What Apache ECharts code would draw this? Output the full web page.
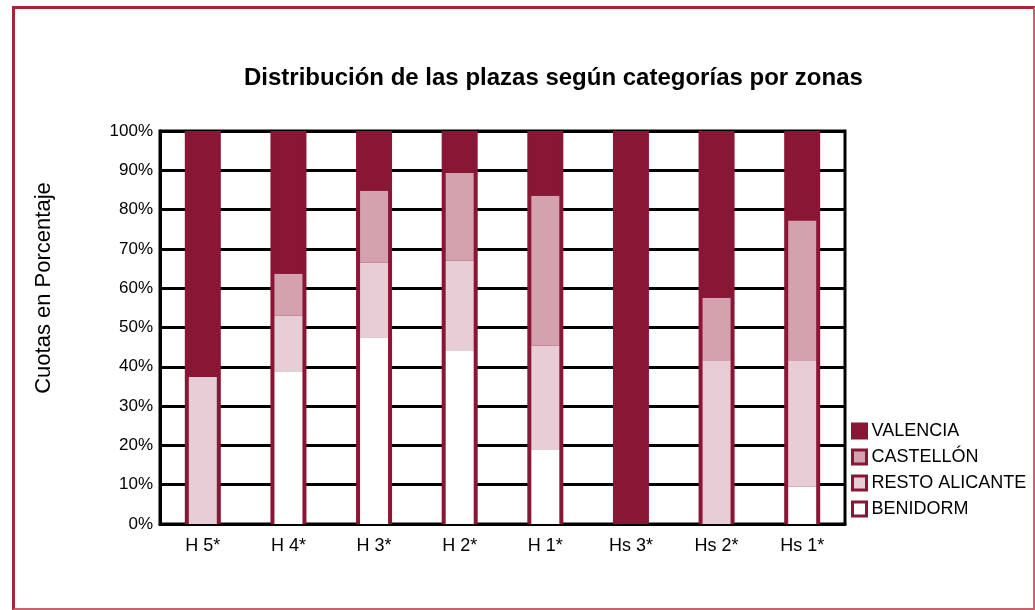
<!DOCTYPE html>
<html>
<head>
<meta charset="utf-8">
<script src="https://cdn.jsdelivr.net/npm/echarts@6/dist/echarts.min.js"></script>
<style>
	html, body { margin: 0; padding: 0; background: #fff; }
	#chart { position: absolute; left: 0; top: 0; width: 1035px; height: 610px; }
	#frame {
		position: absolute; left: 12px; top: 6px; width: 1023px; height: 604px;
		box-sizing: border-box; pointer-events: none;
		border-top: 3px solid #a52634; border-left: 3px solid #a52634;
		border-right: 2px solid #c7636f; border-bottom: 2px solid #c7636f;
	}
</style>
</head>
<body>
<div id="chart"></div>
<div id="frame"></div>
<script>
// datos (%)
let categories = ["H 5*", "H 4*", "H 3*", "H 2*", "H 1*", "Hs 3*", "Hs 2*", "Hs 1*"];
let benidorm = [0, 38.7, 47.5, 44.0, 18.8, 0, 0, 9.5];
let restoAlicante = [37.4, 14.3, 19.0, 23.0, 26.6, 0, 41.5, 32.0];
let castellon = [0, 10.7, 18.3, 22.3, 38.1, 0, 16.1, 35.7];
let valencia = [62.6, 36.3, 15.2, 10.7, 16.5, 100, 42.4, 22.8];
let yTicks = [0, 10, 20, 30, 40, 50, 60, 70, 80, 90, 100];

let dark = "#8a1636";
let font = "'Liberation Sans', Arial, sans-serif";

// total por columna, para el marco oscuro de cada barra
let totals = categories.map(function(c, i) {
	return benidorm[i] + restoAlicante[i] + castellon[i] + valencia[i];
});

let chart = echarts.init(document.getElementById("chart"));

function segment(name, data, color) {
	return {
		name: name,
		type: "bar",
		stack: "zonas",
		xAxisIndex: 0,
		barWidth: 28,
		z: 3,
		itemStyle: { color: color },
		data: data
	};
}

let option = {
	animation: false,
	backgroundColor: "#fff",
	textStyle: { fontFamily: font },
	title: {
		text: "Distribución de las plazas según categorías por zonas",
		left: 239,
		top: 61,
		textStyle: { fontSize: 24, fontWeight: "bold", color: "#000", fontFamily: font }
	},
	graphic: [{
		type: "text",
		x: 44,
		y: 288,
		rotation: Math.PI / 2,
		style: {
			text: "Cuotas en Porcentaje",
			fontSize: 22,
			fontFamily: font,
			fill: "#000",
			align: "center",
			verticalAlign: "middle"
		}
	}],
	legend: {
		orient: "vertical",
		left: 851,
		top: 422,
		padding: 0,
		itemWidth: 14,
		itemHeight: 14,
		itemGap: 8,
		icon: "rect",
		textStyle: { fontSize: 18, color: "#000", fontFamily: font },
		itemStyle: { borderColor: dark, borderWidth: 3 },
		data: ["VALENCIA", "CASTELLÓN", "RESTO ALICANTE", "BENIDORM"]
	},
	grid: {
		left: 160,
		right: 190,
		top: 131,
		bottom: 86,
		show: true,
		borderColor: "#000",
		borderWidth: 3,
		backgroundColor: "transparent"
	},
	xAxis: [{
		type: "category",
		data: categories,
		axisLine: { lineStyle: { color: "#000", width: 3 } },
		axisTick: { length: 10, lineStyle: { color: "#000", width: 3 } },
		axisLabel: { fontSize: 18, color: "#000", margin: 13, fontFamily: font }
	}, {
		type: "category",
		data: categories,
		show: false
	}],
	yAxis: {
		type: "value",
		min: yTicks[0],
		max: yTicks[yTicks.length - 1],
		interval: 10,
		axisLine: { show: true, lineStyle: { color: "#000", width: 3 } },
		axisTick: { show: false },
		axisLabel: { formatter: "{value}%", fontSize: 17, color: "#000", margin: 7, fontFamily: font },
		splitLine: { lineStyle: { color: "#000", width: 3 } }
	},
	series: [
		{
			name: "marco",
			type: "bar",
			xAxisIndex: 1,
			barWidth: 36,
			z: 2,
			itemStyle: { color: dark },
			data: totals
		},
		segment("BENIDORM", benidorm, "#ffffff"),
		segment("RESTO ALICANTE", restoAlicante, "#e7ced6"),
		segment("CASTELLÓN", castellon, "#d3a2ae"),
		segment("VALENCIA", valencia, dark)
	]
};
chart.setOption(option);
</script>
</body>
</html>
